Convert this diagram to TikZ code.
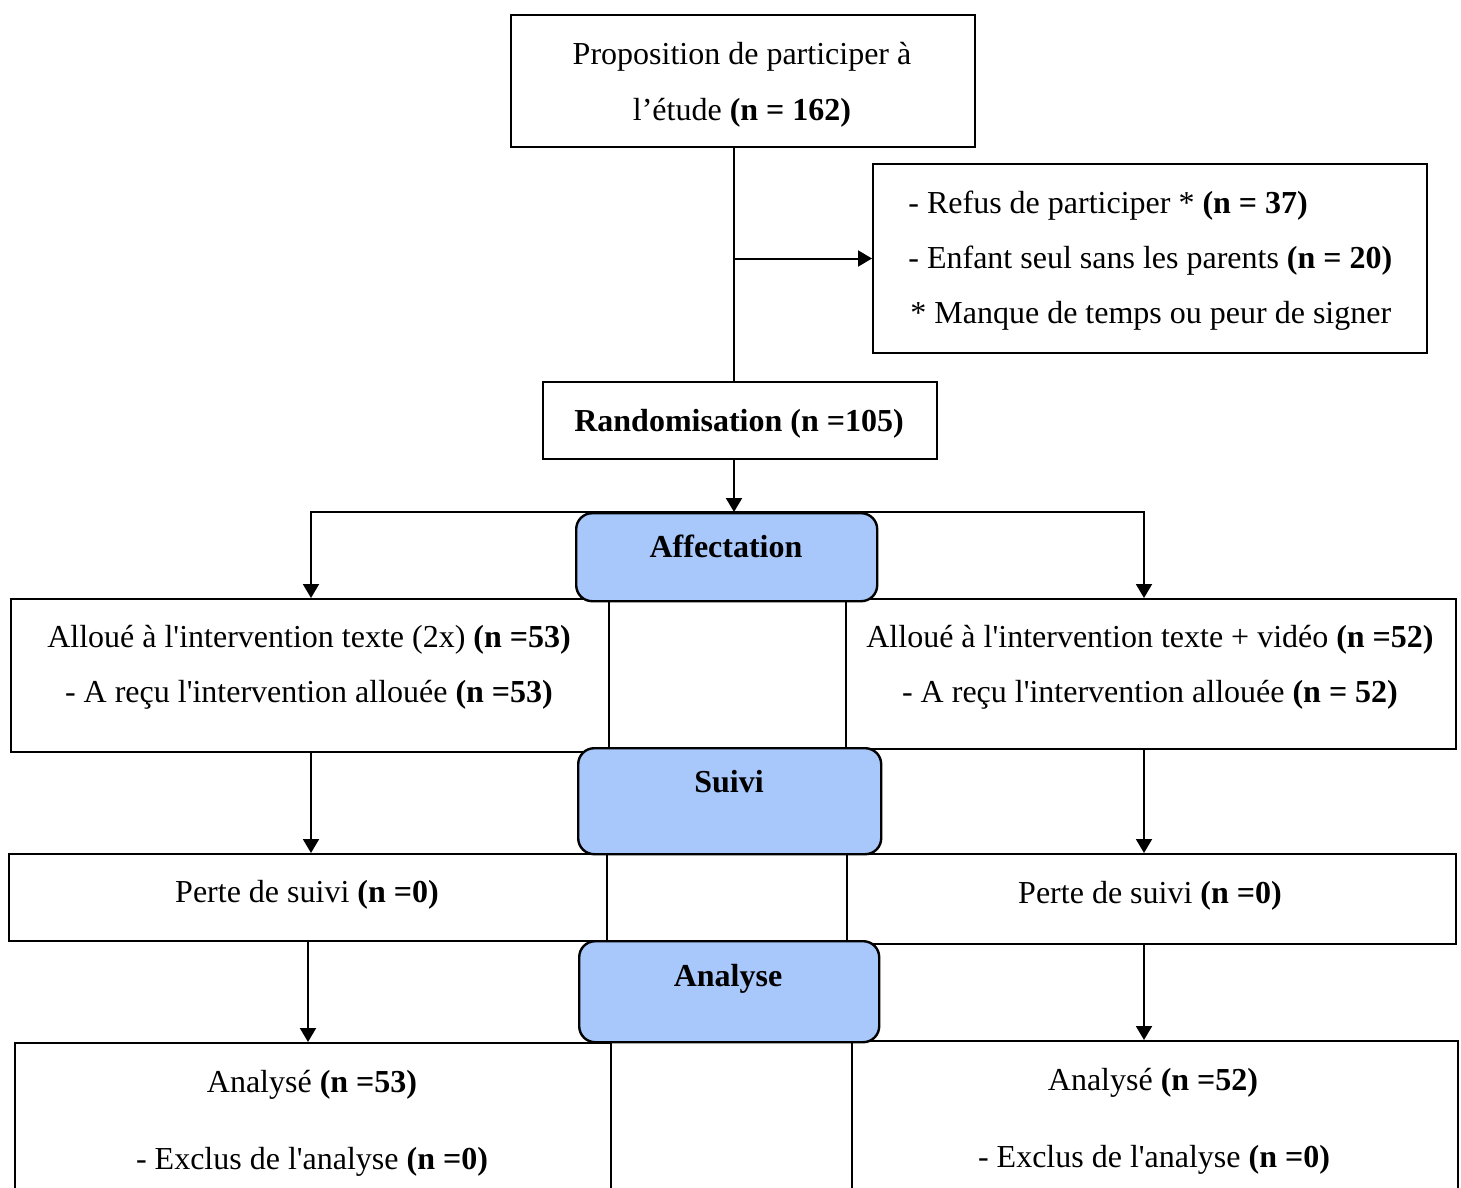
\documentclass[tikz,border=0pt]{standalone}
\usepackage{fontspec}
\setmainfont{Liberation Serif}
\usetikzlibrary{arrows.meta}
\definecolor{phase}{RGB}{168,199,250}
\newcommand\sq{\textquotesingle}
\begin{document}
\begin{tikzpicture}[x=0.5pt,y=-0.5pt,
 box/.style={draw, line width=1pt, fill=white, inner sep=0pt, anchor=north west},
 phasebox/.style={draw, line width=1.2pt, fill=phase, rounded corners=8pt, inner sep=0pt, anchor=north west},
 txt/.style={inner sep=0pt, anchor=base, font=\fontsize{16}{27.5}\selectfont},
 txtl/.style={txt, anchor=base west},
 arr/.style={line width=1pt, -{Triangle[length=7pt,width=8pt]}},
 ln/.style={line width=1pt}]
\useasboundingbox (0,0) rectangle (1461,1188);
\clip (0,0) rectangle (1461,1188);
% plain boxes
\node[box, minimum width=232pt, minimum height=66pt] (top) at (510,14) {};
\node[box, minimum width=277pt, minimum height=94.5pt] (refus) at (872,163) {};
\node[box, minimum width=197pt, minimum height=38.5pt] (rand) at (542,381) {};
\node[box, minimum width=299pt, minimum height=76.5pt] (allocL) at (10,598) {};
\node[box, minimum width=305pt, minimum height=75pt] (allocR) at (845,598) {};
\node[box, minimum width=299pt, minimum height=43.5pt] (perteL) at (8,853) {};
\node[box, minimum width=304.5pt, minimum height=45pt] (perteR) at (846,853) {};
\node[box, minimum width=298pt, minimum height=90pt] (anaL) at (14,1042) {};
\node[box, minimum width=303pt, minimum height=90pt] (anaR) at (851,1040) {};
% phase boxes
\node[phasebox, minimum width=150.5pt, minimum height=44pt] (aff) at (575,512) {};
\node[phasebox, minimum width=151.5pt, minimum height=53pt] (suivi) at (577,747) {};
\node[phasebox, minimum width=150pt, minimum height=50.5pt] (analyse) at (578,940) {};
% texts
\node[txt] (t1) at (742,65) {Proposition de participer à};
\node[txt] (t2) at (742,120) {l’étude \textbf{(n = 162)}};
\node[txtl] (r1) at (908,213) {- Refus de participer * \textbf{(n = 37)}};
\node[txtl] (r2) at (908,268) {- Enfant seul sans les parents \textbf{(n = 20)}};
\node[txtl] (r3) at (910,323) {* Manque de temps ou peur de signer};
\node[txt] (tr) at (739,431) {\textbf{Randomisation (n =105)}};
\node[txt] (ta) at (726,557) {\textbf{Affectation}};
\node[txt] (al1) at (309,647) {Alloué à l\sq intervention texte (2x) \textbf{(n =53)}};
\node[txt] (al2) at (309,702) {- A reçu l\sq intervention allouée \textbf{(n =53)}};
\node[txt] (ar1) at (1150,647) {Alloué à l\sq intervention texte + vidéo \textbf{(n =52)}};
\node[txt] (ar2) at (1150,702) {- A reçu l\sq intervention allouée \textbf{(n = 52)}};
\node[txt] (ts) at (729,792) {\textbf{Suivi}};
\node[txt] (pl) at (307,902) {Perte de suivi \textbf{(n =0)}};
\node[txt] (pr) at (1150,903) {Perte de suivi \textbf{(n =0)}};
\node[txt] (tan) at (728,986) {\textbf{Analyse}};
\node[txt] (nl1) at (312,1092) {Analysé \textbf{(n =53)}};
\node[txt] (nl2) at (312,1169) {- Exclus de l\sq analyse \textbf{(n =0)}};
\node[txt] (nr1) at (1153,1090) {Analysé \textbf{(n =52)}};
\node[txt] (nr2) at (1154,1167) {- Exclus de l\sq analyse \textbf{(n =0)}};
% connectors
\coordinate (spine) at (734,0);
\coordinate (colL) at (311,0);
\coordinate (colLb) at (308,0);
\coordinate (colR) at (1144,0);
\draw[ln] (top.south -| spine) -- (rand.north -| spine);
\draw[arr] (spine |- refus.west) -- (refus.west);
\draw[arr] (rand.south -| spine) -- (aff.north -| spine);
\draw[arr] (aff.north) -| (colL |- allocL.north);
\draw[arr] (aff.north) -| (colR |- allocR.north);
\draw[arr] (colL |- allocL.south) -- (colL |- perteL.north);
\draw[arr] (colR |- allocR.south) -- (colR |- perteR.north);
\draw[arr] (colLb |- perteL.south) -- (colLb |- anaL.north);
\draw[arr] (colR |- perteR.south) -- (colR |- anaR.north);
\end{tikzpicture}
\end{document}
